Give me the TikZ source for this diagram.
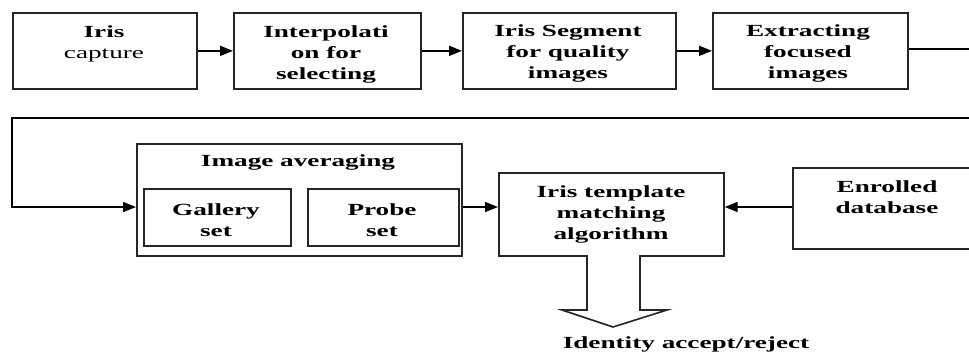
\documentclass[tikz,border=0pt]{standalone}
\usepackage{fontspec}
\setmainfont{Liberation Serif}
\usepackage{graphicx}
\usetikzlibrary{arrows.meta}
\newcommand{\sx}[1]{\scalebox{1.6}[1]{#1}}
\newcommand{\tl}[1]{\sx{\begin{tabular}[t]{@{}c@{}}#1\end{tabular}}}
\begin{document}
\begin{tikzpicture}[x=1pt,y=-1pt,
 box/.style={draw=black!85, line width=1.7pt, inner sep=0pt, anchor=north west},
 lbl/.style={anchor=base, inner sep=0pt, font=\fontsize{17}{21}\selectfont\bfseries},
 conn/.style={draw=black, line width=1.6pt, -{Triangle[length=13pt,width=10pt]}},
]
\useasboundingbox (0,0) rectangle (969,354);
\clip (0,0) rectangle (969,354);
\fill[white] (0,0) rectangle (969,354);

% top row
\node[box, minimum width=184pt, minimum height=76pt] (b1) at (12,12) {};
\node[box, minimum width=187pt, minimum height=76pt] (b2) at (233,12) {};
\node[box, minimum width=213pt, minimum height=76pt] (b3) at (462,12) {};
\node[box, minimum width=195pt, minimum height=76pt] (b4) at (712,12) {};

\node[lbl] (t1) at (104,37) {\tl{Iris\\\mdseries capture}};
\node[lbl] (t2) at (326,37) {\tl{Interpolati\\on for\\selecting}};
\node[lbl] (t3) at (568,36) {\tl{Iris Segment\\for quality\\images}};
\node[lbl] (t4) at (808,36) {\tl{Extracting\\focused\\images}};

% bottom row
\node[box, minimum width=325pt, minimum height=112pt] (avg) at (136,143) {};
\node[box, minimum width=147pt, minimum height=57pt] (gal) at (143,188) {};
\node[box, minimum width=151pt, minimum height=57pt] (prb) at (307,188) {};
\node[box, minimum width=225pt, minimum height=83pt] (tm) at (498,172) {};
\node[box, minimum width=200pt, minimum height=81pt] (db) at (792,167) {};

\node[lbl] (tavg) at (298,166) {\tl{Image averaging}};
\node[lbl] (tgal) at (216,215) {\tl{Gallery\\set}};
\node[lbl] (tprb) at (382,215) {\tl{Probe\\set}};
\node[lbl] (ttm) at (611,197) {\tl{Iris template\\matching\\algorithm}};
\node[lbl] (tdb) at (887,192) {\tl{Enrolled\\database}};

% connectors
\coordinate (ya) at (0,207);
\coordinate (r1) at (990,49);
\coordinate (r2) at (990,118);
\coordinate (l1) at (12,118);
\coordinate (l2) at (12,207);
\draw[conn] (b1) -- (b2);
\draw[conn] (b2) -- (b3);
\draw[conn] (b3) -- (b4);
\draw[conn] (b4.east |- r1) -- (r1) -- (r2) -- (l1) -- (l2) -- (avg.west |- ya);
\draw[conn] (avg.east |- ya) -- (tm.west |- ya);
\draw[conn] (db.west |- ya) -- (tm.east |- ya);

% output block arrow
\draw[line width=1.6pt, draw=black!85, fill=white] (587,255) -- (587,310) -- (562,310) -- (613,327) -- (667,310) -- (640,310) -- (640,255);
\node[lbl] (out) at (686,348) {\sx{Identity accept/reject}};
\end{tikzpicture}
\end{document}
